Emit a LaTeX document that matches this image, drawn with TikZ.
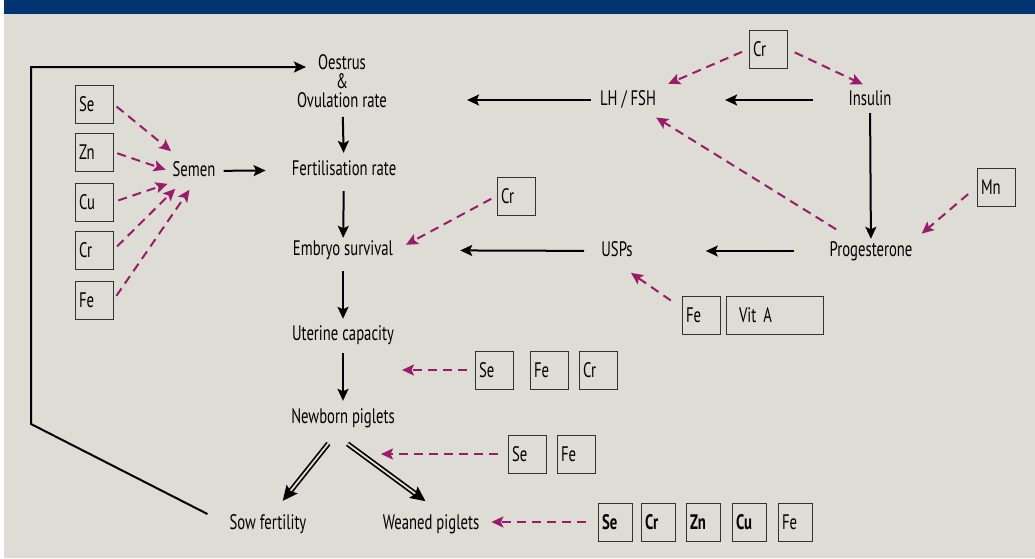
\documentclass[tikz,border=0pt]{standalone}
\usepackage{fontspec}
\setmainfont{PT Sans}[FakeStretch=0.7]
\usetikzlibrary{positioning,arrows.meta}
\definecolor{bgpanel}{RGB}{221,220,213}
\definecolor{banner}{RGB}{0,52,113}
\definecolor{mineral}{RGB}{155,26,106}

\begin{document}
\begin{tikzpicture}[x=1pt,y=-1pt,>={Stealth[length=12pt,width=11pt,inset=2.5pt]},
	every node/.style={font=\fontsize{21}{17.5}\selectfont,text=black,inner sep=3pt},
	stage/.style={text height=14pt,text depth=4pt},
	elem/.style={draw=black!80,line width=1pt,minimum height=38pt,text width=30pt,inner xsep=4pt,inner ysep=0pt,align=left},
	slim/.style={elem,text width=26pt},
	flow/.style={->,line width=2pt},
	twin/.style={->,line width=1.7pt,double=bgpanel,double distance=1.8pt,>={Stealth[length=15pt,width=14pt,inset=2.5pt]}},
	feed/.style={->,mineral,line width=2pt,dash pattern=on 9pt off 6pt},
	]
		\useasboundingbox (0,0) rectangle (1035,558);
		\fill[white] (0,0) rectangle (1035,558);
		\fill[bgpanel] (4,14) rectangle (1035,558);
		\fill[banner] (4,0) rectangle (1035,14);
		
		% create the nodes
		\node (oes) [align=center,font=\fontsize{21}{19}\selectfont] at (342,81) {Oestrus\\\&\\Ovulation rate};
		\node (fert) [stage] at (344,170) {Fertilisation rate};
		\node (emb) [stage] at (343,250) {Embryo survival};
		\node (ut) [stage] at (343,335) {Uterine capacity};
		\node (nb) [stage] at (343,418) {Newborn piglets};
		\node (sow) [stage] at (268,524) {Sow fertility};
		\node (wean) [stage] at (431,524) {Weaned piglets};
		\node (semen) [stage] at (194,171) {Semen};
		\node (lh) [stage] at (628,100) {LH / FSH};
		\node (ins) [stage] at (870,100) {Insulin};
		\node (usps) [stage] at (617,251) {USPs};
		\node (prog) [stage] at (871,251) {Progesterone};
		
		% minerals
		\node (se1) [elem] at (94,104) {Se};
		\node (zn1) [elem,below=9pt of se1] {Zn};
		\node (cu1) [elem,below=11pt of zn1] {Cu};
		\node (cr1) [elem,below=9pt of cu1] {Cr};
		\node (fe1) [elem,below=11pt of cr1] {Fe};
		
		\node (cr2) [elem] at (768,49) {Cr};
		\node (cr3) [elem] at (516,196) {Cr};
		\node (mn) [elem] at (996,187) {Mn};
		\node (fe2) [elem] at (701,315) {Fe};
		\node (vita) [elem,right=5pt of fe2,text width=71pt,inner xsep=13pt] {Vit A};
		
		\node (se2) [elem] at (494,370) {Se};
		\node (fe3) [elem,right=16pt of se2] {Fe};
		\node (cr4) [elem,right=10pt of fe3] {Cr};
		
		\node (se3) [elem] at (527,454) {Se};
		\node (fe4) [elem,right=10pt of se3] {Fe};
		
		\node (se4) [slim] at (615,522) {\bfseries Se};
		\node (cr5) [slim,right=8pt of se4] {\bfseries Cr};
		\node (zn2) [slim,right=10pt of cr5] {\bfseries Zn};
		\node (cu2) [slim,right=11pt of zn2] {\bfseries Cu};
		\node (fe5) [slim,right=11pt of cu2] {Fe};
		
		\coordinate (utin) at (402,370);
		\coordinate (nbin) at (381,454);
		\coordinate (fbtop) at (31,67);
		
		% connect the nodes
		\draw[flow,shorten <=6pt,shorten >=5pt] (oes) -- (fert);
		\draw[flow,shorten <=9pt] (fert) -- (emb);
		\draw[flow,shorten <=9pt,shorten >=4pt] (emb) -- (ut);
		\draw[flow,shorten <=6pt,shorten >=5pt] (ut) -- (nb);
		\draw[flow,shorten <=5pt,shorten >=23pt] (semen) -- (fert);
		\draw[flow,shorten <=6pt,shorten >=77pt] (lh.west) -- (lh.west -| oes.east);
		\draw[flow,shorten <=32pt,shorten >=66pt] (ins) -- (lh);
		\draw[flow,shorten <=1pt] (ins) -- (prog);
		\draw[flow,shorten <=32pt,shorten >=70pt] (prog) -- (usps);
		\draw[flow,shorten <=14pt,shorten >=64pt] (usps) -- (emb);
		\draw[twin,shorten <=17pt,shorten >=14pt] ([xshift=-4pt]nb.south) -- ([xshift=6pt]sow.north);
		\draw[twin,shorten <=23pt,shorten >=18pt] ([xshift=-14pt]nb.south) -- ([xshift=9pt]wean.north);
		\draw[flow,shorten >=-12pt] ([shift={(-19pt,10pt)}]sow.west) -- (31,424) -- (fbtop) -- (fbtop -| oes.west);
		
		\draw[feed,shorten <=4pt,shorten >=12pt] (se1.east) -- (semen.138);
		\draw[feed,shorten <=4pt,shorten >=4pt] (zn1.east) -- (semen.west);
		\draw[feed,shorten <=5pt,shorten >=2pt] (cu1.east) -- (semen.south west);
		\draw[feed,shorten <=5pt,shorten >=8pt] (cr1.east) -- (semen.223);
		\draw[feed,shorten <=5pt,shorten >=8pt] (fe1.east) -- (semen.south);
		\draw[feed,shorten <=7pt,shorten >=10pt] (cr2.west) -- (lh.north east);
		\draw[feed,shorten <=8pt,shorten >=8pt] (cr2.east) -- (ins.north);
		\draw[feed,shorten <=18pt,shorten >=10pt] (prog) -- (lh);
		\draw[feed,shorten <=11pt,shorten >=8pt] (mn.west) -- (prog.north east);
		\draw[feed,shorten <=6pt,shorten >=11pt] (cr3.west) -- (emb.east);
		\draw[feed,shorten <=13pt,shorten >=17pt] (fe2.160) -- (usps.south);
		\draw[feed,shorten <=8pt] (se2.west) -- (utin);
		\draw[feed,shorten <=10pt] (se3.west) -- (nbin);
		\draw[feed,shorten <=12pt,shorten >=9pt] (se4.west) -- (se4.west -| wean.east);
		
\end{tikzpicture}
\end{document}
